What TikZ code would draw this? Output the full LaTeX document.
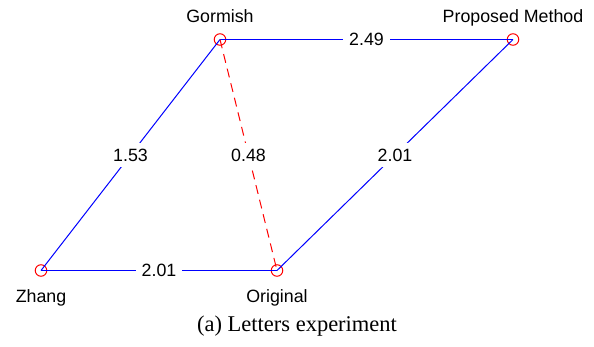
\documentclass[tikz,border=0pt]{standalone}
\usepackage{fontspec}
\setmainfont{Liberation Serif}
\setsansfont{Liberation Sans}
\usetikzlibrary{positioning}

\begin{document}
\begin{tikzpicture}[
  x=1pt, y=-1pt,
  vert/.style={draw=red, circle, line width=1pt, minimum size=11.5pt, inner sep=0pt},
  vlbl/.style={font=\sffamily\fontsize{17.8}{20}\selectfont, text height=12.5pt, text depth=0pt},
  toplbl/.style={label={[vlbl, label distance=7pt]above:#1}},
  botlbl/.style={label={[vlbl, label distance=10pt]below:#1}},
  link/.style={draw=blue, line width=1pt},
  near/.style={draw=red, line width=1pt, dash pattern=on 9pt off 6pt},
  dist/.style={font=\sffamily\fontsize{17.8}{20}\selectfont, fill=white, inner sep=6pt, midway}
]
\useasboundingbox (0,0) rectangle (594,346);

\node[vert, toplbl=Gormish] (gor) at (220,39.5) {};
\node[vert, toplbl=Proposed Method] (prop) at (513,39.5) {};
\node[vert, botlbl=Zhang] (zh) at (41,270.5) {};
\node[vert, botlbl=Original] (orig) at (277,270.5) {};

\draw[link] (gor.center) -- (prop.center) node[dist]{2.49};
\draw[link] (gor.center) -- (zh.center) node[dist]{1.53};
\draw[link] (orig.center) -- (prop.center) node[dist]{2.01};
\draw[link] (zh.center) -- (orig.center) node[dist]{2.01};
\draw[near] (gor.center) -- (orig.center) node[dist]{0.48};

\node[font=\fontsize{22.5}{26}\selectfont, anchor=base] (cap) at (297,331) {(a) Letters experiment};
\end{tikzpicture}
\end{document}
